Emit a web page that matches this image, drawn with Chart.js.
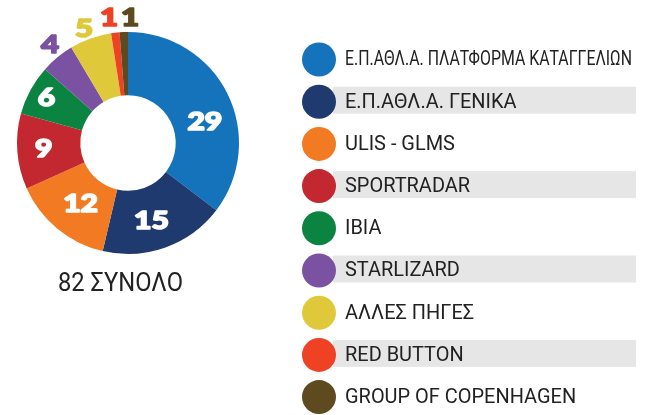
<!DOCTYPE html>
<html>
<head>
<meta charset="utf-8">
<script src="https://cdn.jsdelivr.net/npm/chart.js@4.4.0/dist/chart.umd.min.js"></script>
<style>
  html, body { margin: 0; padding: 0; background: #fff; }
  #wrap { width: 645px; height: 415px; position: relative; }
</style>
</head>
<body>
<div id="wrap"><canvas id="pie"></canvas></div>
<script>
const labels = [
    'Ε.Π.ΑΘΛ.Α. ΠΛΑΤΦΟΡΜΑ ΚΑΤΑΓΓΕΛΙΩΝ',
    'Ε.Π.ΑΘΛ.Α. ΓΕΝΙΚΑ',
    'ULIS - GLMS',
    'SPORTRADAR',
    'IBIA',
    'STARLIZARD',
    'ΑΛΛΕΣ ΠΗΓΕΣ',
    'RED BUTTON',
    'GROUP OF COPENHAGEN'
];
const counts = [29, 15, 12, 9, 6, 4, 5, 1, 1];
const colors = ['#1473ba', '#1e3a6f', '#f27a23', '#c3272f', '#0b8341', '#7b52a1', '#dfc93b', '#ef4124', '#5d4a1f'];
const totalText = '82 ΣΥΝΟΛΟ';

// number placement: outside ring or not, angle nudge (deg), radius nudge (px)
const outside = [false, false, false, false, false, true, true, true, true];
const nudge = [[10.4, 0.5], [2.8, 1], [-1.4, -2.6], [1, 5], [0.5, 14], [1.3, 15], [-1.1, 12.5], [-2, 16.5], [3.1, 15]];

const sliceLabels = {
    id: 'sliceLabels',
    afterDatasetsDraw(chart) {
        const ctx = chart.ctx;
        const meta = chart.getDatasetMeta(0);
        ctx.save();
        ctx.textAlign = 'center';
        ctx.textBaseline = 'middle';
        ctx.lineJoin = 'round';
        meta.data.forEach((arc, i) => {
            const p = arc.getProps(['x', 'y', 'startAngle', 'endAngle', 'innerRadius', 'outerRadius'], true);
            const mid = (p.startAngle + p.endAngle) / 2 + nudge[i][0] * Math.PI / 180;
            let r, col;
            if (outside[i]) {
                r = p.outerRadius + nudge[i][1];
                col = colors[i];
                ctx.font = '900 25px Lato, "Open Sans", sans-serif';
            } else {
                r = (p.innerRadius + p.outerRadius) / 2 + nudge[i][1];
                col = '#fff';
                ctx.font = '900 24px Lato, "Open Sans", sans-serif';
            }
            ctx.save();
            ctx.translate(p.x + Math.cos(mid) * r, p.y + Math.sin(mid) * r + 1);
            ctx.scale(1.25, 1);
            ctx.fillStyle = col;
            ctx.strokeStyle = col;
            ctx.lineWidth = 1.6;
            ctx.fillText(String(counts[i]), 0, 0);
            ctx.strokeText(String(counts[i]), 0, 0);
            ctx.restore();
        });
        // total under the ring
        const a = meta.data[0];
        ctx.font = '25px Roboto, "DejaVu Sans", sans-serif';
        ctx.fillStyle = '#222';
        ctx.fillText(totalText, a.x - 7.5, a.y + a.outerRadius + 31, 125);
        ctx.restore();
    }
};

const sideLegend = {
    id: 'sideLegend',
    afterDraw(chart) {
        const ctx = chart.ctx;
        const top = 59.5, step = 42.2;
        ctx.save();
        labels.forEach((txt, i) => {
            const y = top + i * step;
            if (i % 2 === 1) {
                ctx.fillStyle = '#e6e6e6';
                ctx.fillRect(333, y - 15, 303, 27);
            }
            ctx.beginPath();
            ctx.arc(319, y, 17, 0, Math.PI * 2);
            ctx.fillStyle = colors[i];
            ctx.fill();
            ctx.save();
            ctx.translate(345, y + 1);
            ctx.scale(1.05, 1.05);
            ctx.font = '19px Roboto, "DejaVu Sans", sans-serif';
            ctx.fillStyle = '#222';
            ctx.textBaseline = 'middle';
            ctx.fillText(txt, 0, 0, 287 / 1.05);
            ctx.restore();
        });
        ctx.restore();
    }
};

new Chart(document.getElementById('pie'), {
    type: 'doughnut',
    data: {
        labels: labels,
        datasets: [{
            data: counts,
            backgroundColor: colors,
            borderWidth: 0
        }]
    },
    options: {
        responsive: true,
        maintainAspectRatio: false,
        animation: false,
        cutout: '43%',
        layout: { padding: { left: 17, right: 406, top: 32, bottom: 161 } },
        plugins: {
            legend: { display: false },
            tooltip: { enabled: false }
        }
    },
    plugins: [sliceLabels, sideLegend]
});
</script>
</body>
</html>
